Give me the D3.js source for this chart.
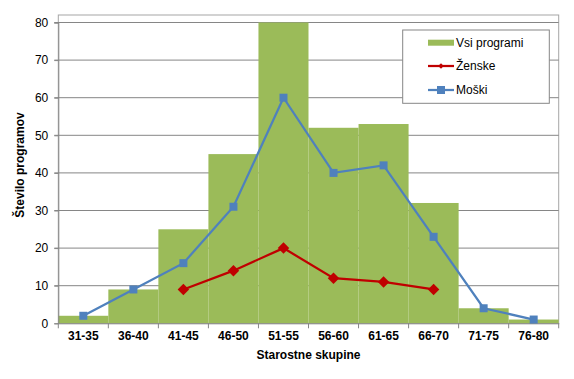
<!DOCTYPE html>
<html><head><meta charset="utf-8">
<script src="https://cdn.jsdelivr.net/npm/d3@7"></script>
<style>body{margin:0;background:#fff}svg{display:block;font-family:"Liberation Sans",Arial,sans-serif}</style>
</head><body><svg id="c" width="574" height="379"></svg>
<script>
const categories = ["31-35","36-40","41-45","46-50","51-55","56-60","61-65","66-70","71-75","76-80"];
const allPrograms = [2, 9, 25, 45, 80, 52, 53, 32, 4, 1];
const women = [null, null, 9, 14, 20, 12, 11, 9, null, null];
const men = [2, 9, 16, 31, 60, 40, 42, 23, 4, 1];
const yTicks = [0,10,20,30,40,50,60,70,80];
const seriesNames = ["Vsi programi","Ženske","Moški"];

const svg = d3.select("#c");
const L = 58.3, R = 558.7, T = 22.5, B = 323.3;
const x = d3.scaleBand().domain(categories).range([L, R]).padding(0);
const y = d3.scaleLinear().domain([0, 80]).range([B, T]);

// plot frame
svg.append("rect").attr("x", L).attr("y", 15).attr("width", R - L).attr("height", B - 15)
  .attr("fill", "none").attr("stroke", "#A6A6A6").attr("stroke-width", 1);

// gridlines
svg.append("g").selectAll("line").data(yTicks.filter(d => d > 0)).join("line")
  .attr("x1", L - 4).attr("x2", R).attr("y1", d => y(d)).attr("y2", d => y(d))
  .attr("stroke", "#868686").attr("stroke-width", 1);

// bars
svg.append("g").selectAll("rect").data(allPrograms).join("rect")
  .attr("x", (d, i) => x(categories[i])).attr("width", x.bandwidth())
  .attr("y", d => y(d)).attr("height", d => B - y(d)).attr("fill", "#9BBB59");

// y axis
const ya = d3.axisLeft(y).tickValues(yTicks).tickSize(4).tickPadding(6);
const yg = svg.append("g").attr("transform", `translate(${L},0)`).call(ya);
yg.select(".domain").attr("stroke", "#868686");
yg.selectAll(".tick line").attr("stroke", "#868686");
yg.selectAll("text").attr("font-size", 12).attr("fill", "#000").attr("font-family", "Liberation Sans, Arial");

// x axis
const xa = d3.axisBottom(x).tickSize(0).tickPadding(8);
const xg = svg.append("g").attr("transform", `translate(0,${B})`).call(xa);
xg.select(".domain").attr("stroke", "#868686");
xg.selectAll("text").attr("font-size", 12).attr("font-weight", "bold").attr("fill", "#000").attr("font-family", "Liberation Sans, Arial");
// boundary ticks
svg.append("g").selectAll("line").data(categories.concat(["end"])).join("line")
  .attr("x1", (d, i) => i < categories.length ? x(d) : R)
  .attr("x2", (d, i) => i < categories.length ? x(d) : R)
  .attr("y1", B).attr("y2", B + 5).attr("stroke", "#868686");

const cx = i => x(categories[i]) + x.bandwidth() / 2;
const line = d3.line().defined(d => d.v != null).x(d => cx(d.i)).y(d => y(d.v));

// men line
const menD = men.map((v, i) => ({v, i}));
svg.append("path").datum(menD).attr("d", line).attr("fill", "none")
  .attr("stroke", "#4F81BD").attr("stroke-width", 2.25);
svg.append("g").selectAll("rect").data(menD.filter(d => d.v != null)).join("rect")
  .attr("x", d => cx(d.i) - 4).attr("y", d => y(d.v) - 4).attr("width", 8).attr("height", 8)
  .attr("fill", "#4F81BD");

// women line
const wD = women.map((v, i) => ({v, i}));
svg.append("path").datum(wD).attr("d", line).attr("fill", "none")
  .attr("stroke", "#C00000").attr("stroke-width", 2.25);
svg.append("g").selectAll("path").data(wD.filter(d => d.v != null)).join("path")
  .attr("d", d3.symbol(d3.symbolDiamond2 || d3.symbolSquare2, 84))
  .attr("transform", d => `translate(${cx(d.i)},${y(d.v)})`)
  .attr("fill", "#C00000");

// axis titles
svg.append("text").attr("x", (L + R) / 2).attr("y", 359).attr("text-anchor", "middle")
  .attr("font-size", 12).attr("font-weight", "bold").text("Starostne skupine");
svg.append("text").attr("transform", "translate(24,165) rotate(-90)").attr("text-anchor", "middle")
  .attr("font-size", 12).attr("font-weight", "bold").text("Število programov");

// legend
const lg = svg.append("g");
lg.append("rect").attr("x", 402.7).attr("y", 30).attr("width", 146.6).attr("height", 73.3)
  .attr("fill", "#fff").attr("stroke", "#868686");
const ly = [42.7, 66, 90];
lg.append("rect").attr("x", 428).attr("y", ly[0] - 3).attr("width", 26).attr("height", 6).attr("fill", "#9BBB59");
lg.append("line").attr("x1", 428).attr("x2", 454).attr("y1", ly[1]).attr("y2", ly[1]).attr("stroke", "#C00000").attr("stroke-width", 2.25);
lg.append("path").attr("d", d3.symbol(d3.symbolDiamond2 || d3.symbolSquare2, 20)).attr("transform", `translate(441,${ly[1]})`).attr("fill", "#C00000");
lg.append("line").attr("x1", 428).attr("x2", 454).attr("y1", ly[2]).attr("y2", ly[2]).attr("stroke", "#4F81BD").attr("stroke-width", 2.25);
lg.append("rect").attr("x", 437).attr("y", ly[2] - 4).attr("width", 8).attr("height", 8).attr("fill", "#4F81BD");
lg.selectAll("text.l").data(seriesNames).join("text").attr("class", "l")
  .attr("x", 456).attr("y", (d, i) => ly[i]).attr("dy", "0.35em")
  .attr("font-size", 12).attr("fill", "#000").text(d => d);
</script></body></html>
